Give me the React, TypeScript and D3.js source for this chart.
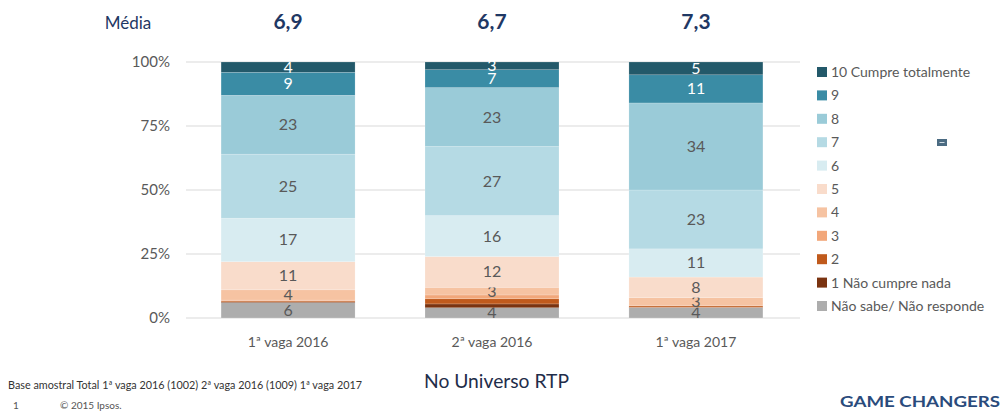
import React from "react";
import * as d3 from "d3";

// Dados (percentagens, de baixo para cima)
const waves = ["1ª vaga 2016", "2ª vaga 2016", "1ª vaga 2017"];
const means = ["6,9", "6,7", "7,3"];
const keys = ["Não sabe/ Não responde", "1 Não cumpre nada", "2", "3", "4", "5", "6", "7", "8", "9", "10 Cumpre totalmente"];
const naoSabe = [6, 4, 4];
const v1 = [0.3, 1.5, 0.2];
const v2 = [0.4, 2, 0.5];
const v3 = [0.3, 1.5, 0.3];
const v4 = [4, 3, 3];
const v5 = [11, 12, 8];
const v6 = [17, 16, 11];
const v7 = [25, 27, 23];
const v8 = [23, 23, 34];
const v9 = [9, 7, 11];
const v10 = [4, 3, 5];
const yTicks = [0, 25, 50, 75, 100];

const series = [naoSabe, v1, v2, v3, v4, v5, v6, v7, v8, v9, v10];
const colors = ["#adadad", "#7a3310", "#c05a1c", "#f2a77a", "#f6c3a2", "#f9dccb", "#d8ecf1", "#b5dae4", "#9acbd8", "#3a8ca5", "#23596a"];
const noLabel = new Set(["1 Não cumpre nada", "2", "3"]);

const font = "Lato, 'Open Sans', sans-serif";
const grey = "#595959";

export default function App() {
  const rows = waves.map((w, i) => {
    const r: any = { wave: w };
    keys.forEach((k, j) => (r[k] = series[j][i]));
    return r;
  });
  const stacked = d3.stack().keys(keys)(rows);

  const x = d3.scaleBand().domain(waves).range([186, 798]).paddingInner(0.343).paddingOuter(0.172);
  const y = d3.scaleLinear().domain([0, 100]).range([318, 62]);

  return (
    <svg width={1005} height={412} style={{ position: "absolute", left: 0, top: 0, background: "#fff" }}>
      {/* Média */}
      <text x={128} y={29} fontFamily={font} fontSize={17} fill="#1f3864" textAnchor="middle">Média</text>
      {waves.map((w, i) => (
        <text key={w} x={x(w)! + x.bandwidth() / 2} y={29} fontFamily={font} fontSize={21} fontWeight="bold" fill="#1f3864" textAnchor="middle">
          {means[i]}
        </text>
      ))}

      {/* grelha */}
      {yTicks.map((t) => (
        <g key={t}>
          <line x1={186} x2={800} y1={y(t)} y2={y(t)} stroke="#d9d9d9" strokeWidth={1} />
          <text x={170} y={y(t) + 5} fontFamily={font} fontSize={15} fill={grey} textAnchor="end">{t}%</text>
        </g>
      ))}

      {/* barras */}
      {stacked.map((s, j) => (
        <g key={s.key}>
          {s.map((d, i) => {
            const x0 = x(waves[i])!;
            const h = y(d[0]) - y(d[1]);
            return (
              <rect key={i} x={x0} y={y(d[1])} width={x.bandwidth()} height={h} fill={colors[j]} stroke="#fff" strokeOpacity={0.35} strokeWidth={0.5} />
            );
          })}
          {!noLabel.has(s.key) &&
            s.map((d, i) => (
              <text key={"t" + i} x={x(waves[i])! + x.bandwidth() / 2} y={(y(d[0]) + y(d[1])) / 2 + 5.5}
                fontFamily={font} fontSize={16} fill={j >= 9 ? "#fff" : grey} textAnchor="middle">
                {d[1] - d[0]}
              </text>
            ))}
        </g>
      ))}

      {/* eixo x */}
      {waves.map((w) => (
        <text key={w} x={x(w)! + x.bandwidth() / 2} y={347} fontFamily={font} fontSize={14} fill={grey} textAnchor="middle">{w}</text>
      ))}

      {/* legenda */}
      {keys.slice().reverse().map((k, i) => {
        const j = keys.length - 1 - i;
        const cy = 72 + i * 23.4;
        return (
          <g key={k}>
            <rect x={817} y={cy - 5} width={10} height={10} fill={colors[j]} />
            <text x={831} y={cy + 5} fontFamily={font} fontSize={14} fill={grey}>{k}</text>
          </g>
        );
      })}
      <rect x={937} y={139} width={10} height={7} fill="#4b6b82" />
      <line x1={939.5} x2={944.5} y1={142.5} y2={142.5} stroke="#cfdbe3" strokeWidth={1} />

      {/* rodapé */}
      <text x={8} y={389} fontFamily={font} fontSize={10.5} fill="#333" textLength={354} lengthAdjust="spacingAndGlyphs">
        Base amostral Total 1ª vaga 2016 (1002) 2ª vaga 2016 (1009) 1ª vaga 2017
      </text>
      <text x={424} y={388} fontFamily={font} fontSize={19} fill="#1f2d4a" textLength={145} lengthAdjust="spacingAndGlyphs">No Universo RTP</text>
      <text x={13} y={409} fontFamily={font} fontSize={10} fill="#555">1</text>
      <text x={60} y={409} fontFamily={font} fontSize={10} fill="#555">© 2015 Ipsos.</text>
      <text x={840} y={407} fontFamily={font} fontSize={16} fontWeight="bold" fill="#2a4b7c" textLength={160} lengthAdjust="spacingAndGlyphs">GAME CHANGERS</text>
    </svg>
  );
}
